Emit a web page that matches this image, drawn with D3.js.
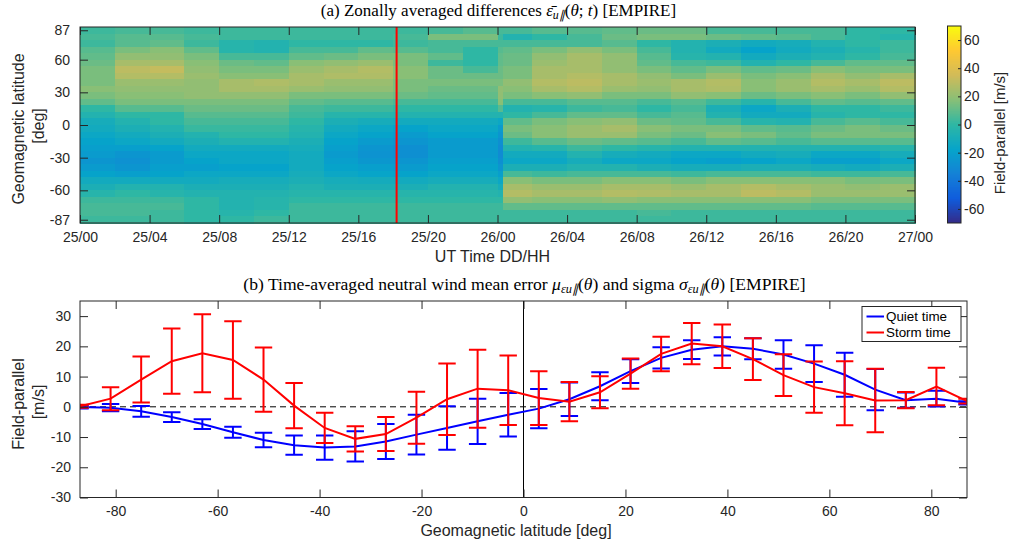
<!DOCTYPE html>
<html>
<head>
<meta charset="utf-8">
<script src="https://cdn.jsdelivr.net/npm/d3@7"></script>
<style>
    body { margin: 0; background: #fff; }
    svg text { font-family: "Liberation Sans", Arial, sans-serif; fill: #262626; }
    .tick text { font-size: 14px; }
    .axis-label { font-size: 16px; }
    .title { font-family: "Liberation Serif", "Times New Roman", serif; font-size: 17px; fill: #000; }
    .legend-text { font-size: 13.4px; fill: #000; }
</style>
</head>
<body>
<div id="chart"></div>
<script>

// ---- (a) zonally averaged differences, hours since 25/00 UT ----
var hourEdges = [0, 2, 4, 6, 8, 10, 12, 14, 16, 18, 20, 22, 24, 24.3, 26, 28, 30, 32, 34, 36, 38, 40, 42, 44, 46, 48];
var gridLatitudes = [87, 81, 75, 69, 63, 57, 51, 45, 39, 33, 27, 21, 15, 9, 3,
    -3, -9, -15, -21, -27, -33, -39, -45, -51, -57, -63, -69, -75, -81, -87];

// one row per latitude, one value per hour column [m/s]
var zonalDiff = [
    [3, 5, 5, 3, 3, 3, 3, 3, 3, 3, 5, 8, 5, 5, 8, 8, 10, 12, 12, 5, 5, 5, 5, 0, 0],
    [5, 8, 8, 5, 3, 3, 3, 3, 3, 5, 15, 15, 3, -5, 0, 5, 12, 15, 15, 12, 10, 8, 5, 0, -3],
    [3, 8, 10, 3, -3, -5, 0, 0, 0, 3, 5, 5, 5, 5, 5, 5, 8, 0, -5, -8, -12, -10, -5, 0, 3],
    [8, 15, 18, 10, -3, -5, 5, 5, 10, 8, 5, 0, 8, 10, 15, 20, 15, 5, -5, -12, -18, -12, -8, -3, 3],
    [10, 20, 20, 15, 5, 5, 10, 12, 15, 15, 10, 0, 10, 12, 20, 25, 20, 8, -3, -5, -12, -8, -5, 0, 5],
    [12, 25, 25, 18, 12, 10, 18, 20, 22, 15, 3, 0, 10, 12, 22, 25, 20, 10, 5, 3, -5, 0, 5, 10, 10],
    [15, 30, 32, 20, 15, 15, 22, 25, 28, 18, 12, 5, 12, 15, 25, 25, 20, 15, 10, 15, 10, 12, 18, 15, 15],
    [15, 28, 28, 22, 18, 18, 25, 27, 27, 18, 12, 12, 12, 15, 25, 28, 25, 20, 15, 22, 15, 18, 25, 20, 25],
    [15, 22, 22, 20, 25, 27, 25, 22, 22, 15, 15, 15, 15, 20, 28, 30, 25, 22, 25, 28, 18, 22, 28, 25, 30],
    [18, 20, 20, 20, 25, 25, 22, 20, 20, 15, 12, 12, 20, 18, 25, 28, 22, 20, 25, 27, 18, 22, 25, 22, 28],
    [15, 18, 18, 20, 20, 20, 15, 15, 15, 12, 10, 10, 20, 15, 18, 20, 15, 15, 20, 18, 12, 15, 18, 15, 20],
    [10, 15, 15, 15, 15, 15, 10, 8, 8, 5, 5, 5, 18, 5, 5, 8, 8, 5, 8, 3, -3, 5, 10, 8, 10],
    [0, 8, 8, 12, 12, 12, 5, 3, 3, 0, 0, 0, 8, -5, -3, 3, 5, 0, 5, -8, -15, -8, 0, 0, 3],
    [-5, 0, 0, 8, 8, 8, 3, -3, -3, -5, -5, -5, -5, 0, 5, 10, 10, 5, 8, -5, -12, -12, -3, 0, 0],
    [-10, -5, 0, 5, 5, 5, 0, -8, -10, -12, -12, -12, -15, 10, 15, 18, 20, 12, 10, 5, -3, -5, 5, 8, 5],
    [-12, -8, -5, 2, 2, 2, -3, -12, -15, -18, -15, -15, -22, 15, 18, 22, 25, 18, 15, 15, 10, 8, 12, 15, 12],
    [-15, -12, -8, -5, 0, 0, -5, -15, -18, -22, -18, -18, -25, 12, 18, 22, 22, 15, 12, 18, 15, 10, 15, 15, 15],
    [-18, -15, -12, -8, -5, -5, -8, -18, -22, -25, -22, -22, -28, 3, 8, 12, 10, 8, 5, 10, 8, 5, 8, 8, 8],
    [-20, -20, -18, -12, -12, -12, -10, -20, -25, -28, -22, -22, -30, -5, -3, 3, 0, -3, -5, -5, -5, -5, -5, -5, -3],
    [-22, -25, -22, -15, -15, -15, -12, -22, -26, -28, -22, -22, -30, -12, -12, -5, -10, -12, -15, -15, -12, -10, -15, -15, -10],
    [-25, -27, -22, -18, -15, -15, -12, -20, -24, -25, -20, -20, -28, -15, -15, -10, -15, -15, -18, -20, -18, -15, -20, -20, -15],
    [-22, -25, -20, -20, -18, -18, -12, -18, -20, -22, -18, -18, -25, -8, -8, -5, -5, -8, -10, -10, -8, -8, -10, -12, -8],
    [-18, -20, -18, -15, -15, -15, -10, -15, -17, -18, -15, -15, -20, 5, 3, 5, 5, 5, 3, 5, 5, 5, 3, 3, 5],
    [-12, -12, -12, -12, -10, -10, -8, -10, -11, -12, -10, -10, -15, 18, 15, 15, 18, 18, 15, 18, 18, 18, 18, 15, 15],
    [-8, -5, -5, -8, -8, -8, -5, -8, -8, -8, -5, -5, -10, 25, 22, 22, 25, 25, 22, 25, 28, 25, 22, 20, 22],
    [-3, 0, -3, -5, -5, -5, -3, -3, -3, -3, -3, -3, -5, 28, 25, 25, 28, 27, 25, 25, 30, 28, 22, 22, 22],
    [3, 3, 3, 0, -5, -3, 0, 0, 0, 0, 0, 0, 0, 20, 18, 18, 20, 18, 18, 18, 18, 18, 15, 15, 15],
    [5, 5, 5, 0, -5, -3, 3, 3, 3, 3, 3, 3, 3, 10, 10, 10, 10, 10, 10, 10, 10, 10, 8, 8, 8],
    [5, 5, 3, 0, -3, 0, 3, 3, 3, 3, 3, 3, 3, 3, 3, 3, 3, 5, 3, 3, 3, 3, 3, 3, 3],
    [3, 3, 3, 0, 0, 3, 3, 3, 3, 3, 3, 3, 3, 3, 3, 3, 3, 3, 3, 3, 3, 3, 3, 3, 3]
];

var timeTickHours = [0, 4, 8, 12, 16, 20, 24, 28, 32, 36, 40, 44, 48];
var timeTickLabels = ["25/00", "25/04", "25/08", "25/12", "25/16", "25/20", "26/00",
    "26/04", "26/08", "26/12", "26/16", "26/20", "27/00"];
var latTicks = [87, 60, 30, 0, -30, -60, -87];
var stormOnsetHour = 18.2;
var colorTicks = [-60, -40, -20, 0, 20, 40, 60];

// ---- (b) time-averaged mean error and sigma ----
var errLatitudes = [-87, -81, -75, -69, -63, -57, -51, -45, -39, -33, -27, -21, -15, -9, -3,
    3, 9, 15, 21, 27, 33, 39, 45, 51, 57, 63, 69, 75, 81, 87];
var quietMean = [-0.1, -0.3, -1.5, -3.4, -5.7, -8.4, -11.0, -12.7, -13.5, -13.1, -11.5, -9.2, -7.0, -4.8, -2.6,
    -0.6, 2.5, 6.8, 11.8, 16.2, 18.9, 20.0, 19.2, 17.3, 14.3, 10.6, 5.7, 2.2, 2.7, 1.3];
var quietSigma = [0.5, 1.2, 1.8, 1.6, 1.6, 1.8, 2.4, 3.2, 4.0, 5.0, 5.8, 6.6, 7.2, 7.5, 7.2,
    6.5, 5.5, 4.6, 3.9, 3.5, 3.1, 3.0, 3.5, 4.7, 6.1, 7.3, 6.8, 2.5, 2.6, 0.5];
var stormMean = [0.2, 2.7, 9.0, 15.1, 17.7, 15.5, 9.0, 0.4, -7.0, -10.6, -9.0, -3.6, 2.5, 6.0, 5.5,
    2.9, 1.7, 4.8, 11.0, 17.5, 20.9, 20.0, 15.8, 10.5, 6.5, 4.5, 2.1, 2.2, 6.7, 1.9];
var stormSigma = [0.5, 3.8, 7.6, 10.8, 12.9, 12.8, 10.6, 7.5, 5.0, 4.2, 5.6, 8.6, 11.8, 12.9, 11.5,
    8.9, 6.5, 5.3, 5.0, 5.7, 6.8, 7.2, 6.9, 6.9, 8.5, 10.6, 10.5, 2.7, 6.2, 0.8];
var errLatTicks = [-80, -60, -40, -20, 0, 20, 40, 60, 80];
var errValueTicks = [-30, -20, -10, 0, 10, 20, 30];
var seriesNames = ["Quiet time", "Storm time"];

// parula colour stops (equally spaced)
var parulaColors = ["#352a87", "#0f5cdd", "#1481d6", "#06a4ca", "#2eb7a4", "#87bf77", "#d1bb59", "#fec832", "#f9fb0e"];

var axisColor = "#262626";


/*
 * helper: write a string made of plain / italic / subscript parts
 */
function richText(sel, parts) {
    var shifted = false;
    parts.forEach(function(p) {
        var t = sel.append("tspan").text(p.s);
        if (p.it) t.style("font-style", "italic");
        if (p.sub) {
            t.style("font-size", "0.7em").attr("dy", shifted ? 0 : 3);
            shifted = true;
        } else if (shifted) {
            t.attr("dy", -3);
            shifted = false;
        }
    });
}


/*
 * ZonalVis - heat map of the zonally averaged differences
 */

ZonalVis = function(_svg) {
    this.svg = _svg;
    this.initVis();
};

ZonalVis.prototype.initVis = function() {
    var vis = this;

    vis.margin = { top: 27, left: 80 };
    vis.width = 835;
    vis.height = 196;

    vis.g = vis.svg.append("g")
        .attr("transform", "translate(" + vis.margin.left + "," + vis.margin.top + ")");

    vis.x = d3.scaleLinear().domain([0, 48]).range([0, vis.width]);
    vis.y = d3.scaleLinear().domain([-90, 90]).range([vis.height, 0]);

    vis.color = d3.scaleLinear()
        .domain(parulaColors.map(function(c, i) { return -70 + i * 140 / (parulaColors.length - 1); }))
        .range(parulaColors)
        .clamp(true);

    vis.cells = [];
    zonalDiff.forEach(function(row, r) {
        row.forEach(function(v, c) {
            vis.cells.push({ lat: gridLatitudes[r], t0: hourEdges[c], t1: hourEdges[c + 1], value: v });
        });
    });

    vis.updateVis();
};

ZonalVis.prototype.updateVis = function() {
    var vis = this;

    vis.g.selectAll(".cell")
        .data(vis.cells)
        .enter().append("rect")
        .attr("class", "cell")
        .attr("x", function(d) { return vis.x(d.t0); })
        .attr("width", function(d) { return vis.x(d.t1) - vis.x(d.t0) + 0.5; })
        .attr("y", function(d) { return vis.y(d.lat + 3); })
        .attr("height", function(d) { return vis.y(d.lat - 3) - vis.y(d.lat + 3) + 0.5; })
        .attr("fill", function(d) { return vis.color(d.value); })
        .attr("shape-rendering", "crispEdges");

    // storm onset marker
    vis.g.append("line")
        .attr("x1", vis.x(stormOnsetHour)).attr("x2", vis.x(stormOnsetHour))
        .attr("y1", 0).attr("y2", vis.height)
        .attr("stroke", "#ff0000").attr("stroke-width", 2);

    // axes, ticks inside the box
    var xAxis = d3.axisBottom(vis.x).tickValues(timeTickHours)
        .tickFormat(function(d, i) { return timeTickLabels[i]; })
        .tickSize(-8).tickPadding(9);
    var xTop = d3.axisTop(vis.x).tickValues(timeTickHours).tickFormat("").tickSize(-8);
    var yAxis = d3.axisLeft(vis.y).tickValues(latTicks)
        .tickFormat(function(d) { return String(d); })
        .tickSize(-8).tickPadding(10);
    var yRight = d3.axisRight(vis.y).tickValues(latTicks).tickFormat("").tickSize(-8);

    vis.g.append("g").attr("class", "axis").attr("transform", "translate(0," + vis.height + ")").call(xAxis);
    vis.g.append("g").attr("class", "axis").call(xTop);
    vis.g.append("g").attr("class", "axis").call(yAxis);
    vis.g.append("g").attr("class", "axis").attr("transform", "translate(" + vis.width + ",0)").call(yRight);

    vis.g.append("rect")
        .attr("width", vis.width).attr("height", vis.height)
        .attr("fill", "none").attr("stroke", axisColor).attr("stroke-width", 1);

    // labels
    vis.svg.append("text").attr("class", "axis-label")
        .attr("x", 492.5).attr("y", 262).attr("text-anchor", "middle")
        .text("UT Time DD/HH");
    vis.svg.append("text").attr("class", "axis-label")
        .attr("transform", "translate(23.5,129) rotate(-90)").attr("text-anchor", "middle")
        .text("Geomagnetic latitude");
    vis.svg.append("text").attr("class", "axis-label")
        .attr("transform", "translate(43.5,126) rotate(-90)").attr("text-anchor", "middle")
        .text("[deg]");

    var title = vis.svg.append("text").attr("class", "title")
        .attr("x", 498.5).attr("y", 16).attr("text-anchor", "middle");
    richText(title, [
        { s: "(a) Zonally averaged differences " },
        { s: "\u03b5\u0304", it: true },
        { s: "u\u2225", it: true, sub: true },
        { s: "(" }, { s: "\u03b8", it: true }, { s: "; " }, { s: "t", it: true },
        { s: ")  [EMPIRE]" }
    ]);

    vis.drawColorbar();
};

ZonalVis.prototype.drawColorbar = function() {
    var vis = this;

    var cb = vis.svg.append("g").attr("transform", "translate(947.5,26)");
    var cbHeight = 197, cbWidth = 13.5;
    var cy = d3.scaleLinear().domain([-70, 70]).range([cbHeight, 0]);

    cb.selectAll(".cb-step")
        .data(d3.range(-70, 70, 0.5))
        .enter().append("rect")
        .attr("class", "cb-step")
        .attr("x", 0).attr("width", cbWidth)
        .attr("y", function(d) { return cy(d + 0.5); })
        .attr("height", function(d) { return cy(d) - cy(d + 0.5) + 0.3; })
        .attr("fill", function(d) { return vis.color(d + 0.25); })
        .attr("shape-rendering", "crispEdges");

    var cbAxis = d3.axisRight(cy).tickValues(colorTicks)
        .tickFormat(function(d) { return String(d); })
        .tickSize(-3).tickPadding(3);
    cb.append("g").attr("class", "axis").attr("transform", "translate(" + cbWidth + ",0)").call(cbAxis);

    cb.append("rect").attr("width", cbWidth).attr("height", cbHeight)
        .attr("fill", "none").attr("stroke", axisColor).attr("stroke-width", 1);

    vis.svg.append("text").attr("class", "axis-label")
        .style("font-size", "15px")
        .attr("transform", "translate(1005,133) rotate(-90)").attr("text-anchor", "middle")
        .text("Field-parallel [m/s]");
};


/*
 * ErrorVis - mean error with sigma bars for quiet and storm time
 */

ErrorVis = function(_svg) {
    this.svg = _svg;
    this.initVis();
};

ErrorVis.prototype.initVis = function() {
    var vis = this;

    vis.margin = { top: 301, left: 80 };
    vis.width = 887;
    vis.height = 196.5;

    vis.g = vis.svg.append("g")
        .attr("transform", "translate(" + vis.margin.left + "," + vis.margin.top + ")");

    vis.x = d3.scaleLinear().domain([-87, 87]).range([0, vis.width]);
    vis.y = d3.scaleLinear().domain([-30, 35]).range([vis.height, 0]);

    vis.g.append("clipPath").attr("id", "err-clip")
        .append("rect").attr("width", vis.width).attr("height", vis.height);

    vis.series = [
        { name: seriesNames[0], color: "#0000ff", mean: quietMean, sigma: quietSigma },
        { name: seriesNames[1], color: "#ff0000", mean: stormMean, sigma: stormSigma }
    ];

    vis.wrangleData();
};

ErrorVis.prototype.wrangleData = function() {
    var vis = this;

    vis.displayData = vis.series.map(function(s) {
        return {
            name: s.name,
            color: s.color,
            points: errLatitudes.map(function(lat, i) {
                return { lat: lat, mean: s.mean[i], sigma: s.sigma[i] };
            })
        };
    });

    vis.updateVis();
};

ErrorVis.prototype.updateVis = function() {
    var vis = this;
    var cap = 8.7;

    var plot = vis.g.append("g").attr("clip-path", "url(#err-clip)");

    // reference lines
    plot.append("line")
        .attr("x1", 0).attr("x2", vis.width)
        .attr("y1", vis.y(0)).attr("y2", vis.y(0))
        .attr("stroke", "#000").attr("stroke-width", 1).attr("stroke-dasharray", "6,4");
    plot.append("line")
        .attr("x1", vis.x(0)).attr("x2", vis.x(0))
        .attr("y1", 0).attr("y2", vis.height)
        .attr("stroke", "#000").attr("stroke-width", 1);

    var line = d3.line()
        .x(function(d) { return vis.x(d.lat); })
        .y(function(d) { return vis.y(d.mean); });

    vis.displayData.forEach(function(s) {
        var sg = plot.append("g");

        sg.append("path")
            .attr("d", line(s.points))
            .attr("fill", "none").attr("stroke", s.color).attr("stroke-width", 2);

        var bars = sg.selectAll(".bar").data(s.points).enter().append("g").attr("class", "bar");
        bars.append("line")
            .attr("x1", function(d) { return vis.x(d.lat); })
            .attr("x2", function(d) { return vis.x(d.lat); })
            .attr("y1", function(d) { return vis.y(d.mean + d.sigma); })
            .attr("y2", function(d) { return vis.y(d.mean - d.sigma); });
        bars.append("line")
            .attr("x1", function(d) { return vis.x(d.lat) - cap; })
            .attr("x2", function(d) { return vis.x(d.lat) + cap; })
            .attr("y1", function(d) { return vis.y(d.mean + d.sigma); })
            .attr("y2", function(d) { return vis.y(d.mean + d.sigma); });
        bars.append("line")
            .attr("x1", function(d) { return vis.x(d.lat) - cap; })
            .attr("x2", function(d) { return vis.x(d.lat) + cap; })
            .attr("y1", function(d) { return vis.y(d.mean - d.sigma); })
            .attr("y2", function(d) { return vis.y(d.mean - d.sigma); });
        bars.selectAll("line").attr("stroke", s.color).attr("stroke-width", 2);
    });

    // axes
    var xAxis = d3.axisBottom(vis.x).tickValues(errLatTicks)
        .tickFormat(function(d) { return String(d); })
        .tickSize(-8).tickPadding(8.5);
    var xTop = d3.axisTop(vis.x).tickValues(errLatTicks).tickFormat("").tickSize(-8);
    var yAxis = d3.axisLeft(vis.y).tickValues(errValueTicks)
        .tickFormat(function(d) { return String(d); })
        .tickSize(-8).tickPadding(9);
    var yRight = d3.axisRight(vis.y).tickValues(errValueTicks).tickFormat("").tickSize(-8);

    vis.g.append("g").attr("class", "axis").attr("transform", "translate(0," + vis.height + ")").call(xAxis);
    vis.g.append("g").attr("class", "axis").call(xTop);
    vis.g.append("g").attr("class", "axis").call(yAxis);
    vis.g.append("g").attr("class", "axis").attr("transform", "translate(" + vis.width + ",0)").call(yRight);

    vis.g.append("rect")
        .attr("width", vis.width).attr("height", vis.height)
        .attr("fill", "none").attr("stroke", axisColor).attr("stroke-width", 1);

    // legend
    var lg = vis.svg.append("g").attr("transform", "translate(862,306.5)");
    lg.append("rect").attr("width", 99).attr("height", 35)
        .attr("fill", "#fff").attr("stroke", "#262626").attr("stroke-width", 1);
    vis.displayData.forEach(function(s, i) {
        var yy = 10 + i * 16;
        lg.append("line").attr("x1", 4.5).attr("x2", 22).attr("y1", yy).attr("y2", yy)
            .attr("stroke", s.color).attr("stroke-width", 2);
        lg.append("text").attr("class", "legend-text")
            .attr("x", 24).attr("y", yy + 4.7).text(s.name);
    });

    // labels
    vis.svg.append("text").attr("class", "axis-label")
        .attr("x", 516).attr("y", 536).attr("text-anchor", "middle")
        .text("Geomagnetic latitude [deg]");
    vis.svg.append("text").attr("class", "axis-label")
        .attr("transform", "translate(23.5,404) rotate(-90)").attr("text-anchor", "middle")
        .text("Field-parallel");
    vis.svg.append("text").attr("class", "axis-label")
        .attr("transform", "translate(43.5,402) rotate(-90)").attr("text-anchor", "middle")
        .text("[m/s]");

    var title = vis.svg.append("text").attr("class", "title")
        .style("font-size", "17.6px")
        .attr("x", 524.5).attr("y", 289.5).attr("text-anchor", "middle");
    richText(title, [
        { s: "(b) Time-averaged neutral wind mean error " },
        { s: "\u03bc", it: true },
        { s: "\u03b5u\u2225", it: true, sub: true },
        { s: "(" }, { s: "\u03b8", it: true }, { s: ") and sigma " },
        { s: "\u03c3", it: true },
        { s: "\u03b5u\u2225", it: true, sub: true },
        { s: "(" }, { s: "\u03b8", it: true }, { s: ")  [EMPIRE]" }
    ]);
};


var svg = d3.select("#chart").append("svg")
    .attr("width", 1009)
    .attr("height", 541);

var zonalVis = new ZonalVis(svg);
var errorVis = new ErrorVis(svg);

// style the axis pieces like the reference (no domain path, dark ticks)
svg.selectAll(".axis .domain").remove();
svg.selectAll(".axis .tick line").attr("stroke", axisColor);
svg.selectAll(".axis .tick text").attr("fill", axisColor);

</script>
</body>
</html>
